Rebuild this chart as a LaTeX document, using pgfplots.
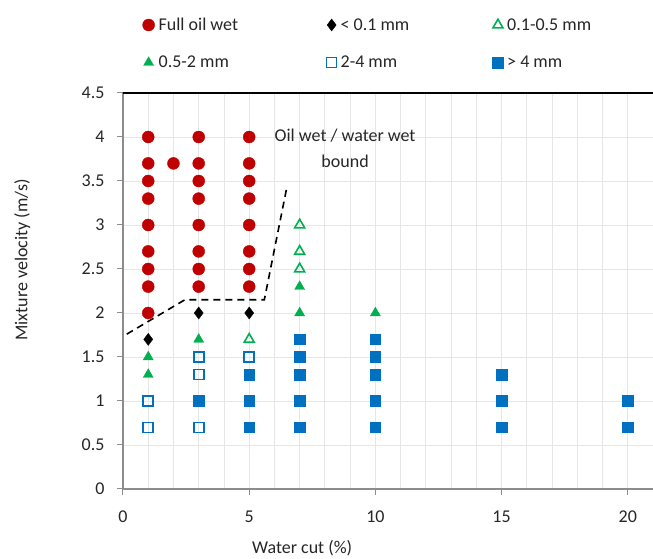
\documentclass[border=0pt]{standalone}
\usepackage{pgfplots}
\pgfplotsset{compat=1.18}
\usepackage{fontspec}
\setmainfont{Carlito}
\definecolor{cred}{HTML}{C00000}
\definecolor{cgreen}{HTML}{00B050}
\definecolor{cblue}{HTML}{0070C0}
\definecolor{cgrid}{HTML}{E6E6E6}
\definecolor{caxis}{HTML}{8C8C8C}
\begin{document}
\begin{tikzpicture}
\path[use as bounding box] (-123pt,-70pt) rectangle (530pt,489pt);
\begin{axis}[
  at={(0,0)}, anchor=south west,
  scale only axis, width=530pt, height=396pt,
  xmin=0, xmax=21, ymin=0, ymax=4.5,
  xtick={0,5,10,15,20}, minor x tick num=4,
  ytick={0,0.5,...,4.5},
  yticklabels={0,0.5,1,1.5,2,2.5,3,3.5,4,4.5},
  axis x line*=bottom, axis y line*=left,
  axis line style={caxis, line width=1.3pt},
  every outer x axis line/.append style={-}, every outer y axis line/.append style={-},
  tick align=outside, major tick length=6pt, minor tick length=0pt,
  tick style={caxis, line width=1pt},
  grid=both,
  major grid style={cgrid, line width=0.9pt},
  minor grid style={cgrid, line width=0.9pt},
  /pgf/number format/assume math mode=true,
  ticklabel style={font=\fontsize{18}{22}\selectfont, text=black!85},
  xticklabel style={yshift=-12pt},
  yticklabel style={xshift=-9pt},
  xlabel={Water cut (\%)}, ylabel={Mixture velocity (m/s)},
  label style={font=\fontsize{18}{22}\selectfont, text=black!85},
  xlabel style={at={(axis description cs:0.338,-0.149)}, anchor=center},
  ylabel style={at={(axis description cs:-0.19,0.578)}, anchor=center},
  clip=false,
  legend columns=3,
  legend cell align=left,
  legend style={at={(axis description cs:0.031,1.2)}, anchor=north west,
    draw=none, fill=none, font=\fontsize{18}{22}\selectfont, text=black!85,
    row sep=20pt, /tikz/every odd column/.append style={column sep=2pt}},
]
\addplot[only marks, mark=*, mark size=6pt, color=cred, mark options={draw=cred, fill=cred}] coordinates {
 (1,4) (1,3.7) (1,3.5) (1,3.3) (1,3) (1,2.7) (1,2.5) (1,2.3) (1,2)
 (2,3.7)
 (3,4) (3,3.7) (3,3.5) (3,3.3) (3,3) (3,2.7) (3,2.5) (3,2.3)
 (5,4) (5,3.7) (5,3.5) (5,3.3) (5,3) (5,2.7) (5,2.5) (5,2.3)
};
\addlegendentry{\makebox[166pt][l]{Full oil wet}}
\addplot[only marks, mark=diamond*, mark size=6pt, color=black, mark options={fill=black}] coordinates {
 (1,1.7) (3,2) (5,2)
};
\addlegendentry{\makebox[150pt][l]{< 0.1 mm}}
\addplot[only marks, mark=triangle, mark size=5.8pt, color=cgreen, mark options={draw=cgreen, line width=1.6pt, fill=white}] coordinates {
 (7,3) (7,2.7) (7,2.5) (5,1.7)
};
\addlegendentry{0.1-0.5 mm}
\addplot[only marks, mark=triangle*, mark size=5.8pt, color=cgreen, mark options={fill=cgreen}] coordinates {
 (7,2.3) (7,2) (10,2) (1,1.5) (1,1.3) (3,1.7)
};
\addlegendentry{\makebox[166pt][l]{0.5-2 mm}}
\addplot[only marks, mark=square, mark size=5pt, color=cblue, mark options={draw=cblue, line width=1.6pt, fill=white}] coordinates {
 (1,1) (1,0.7) (3,1.5) (3,1.3) (3,0.7) (5,1.5)
};
\addlegendentry{\makebox[150pt][l]{2-4 mm}}
\addplot[only marks, mark=square*, mark size=5.3pt, color=cblue, mark options={fill=cblue}] coordinates {
 (3,1) (5,1.3) (5,1) (5,0.7)
 (7,1.7) (7,1.5) (7,1.3) (7,1) (7,0.7)
 (10,1.7) (10,1.5) (10,1.3) (10,1) (10,0.7)
 (15,1.3) (15,1) (15,0.7)
 (20,1) (20,0.7)
};
\addlegendentry{> 4 mm}
\addplot[black, line width=1.6pt, dash pattern=on 7pt off 5pt, forget plot] coordinates {
 (0.15,1.76) (2.45,2.15) (5.6,2.15) (6.5,3.44)
};
\draw[black, line width=1.5pt] (rel axis cs:0,1) -- (rel axis cs:1,1);
\node[font=\fontsize{18}{26}\selectfont, text=black!85, align=center] at (axis cs:8.8,3.87) {Oil wet / water wet\\bound};
\end{axis}
\end{tikzpicture}
\end{document}
